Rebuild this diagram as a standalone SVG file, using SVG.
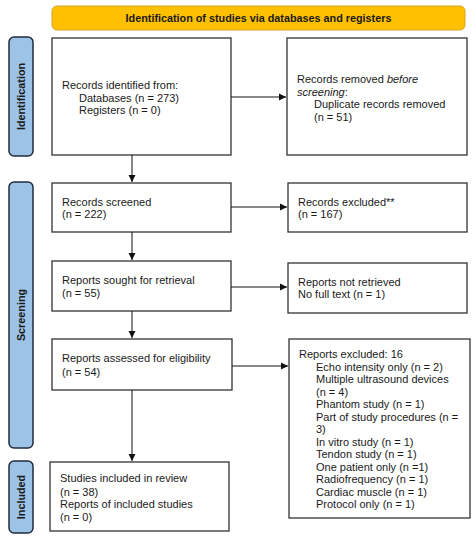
<svg xmlns="http://www.w3.org/2000/svg" width="474" height="539" viewBox="0 0 474 539">
<style>
.box{fill:#fff;stroke:#333;stroke-width:1.3}
.side{fill:#9DC3E6;stroke:#1F2D3D;stroke-width:1.5}
.t{font-family:"Liberation Sans",Arial,sans-serif;font-size:11px;fill:#1a1a1a}
.b{font-family:"Liberation Sans",Arial,sans-serif;font-size:10.8px;font-weight:bold;fill:#1a1a1a}
.c{stroke:#111;stroke-width:1;fill:none;marker-end:url(#ah)}
</style>
<defs>
<marker id="ah" markerWidth="8" markerHeight="8" refX="7" refY="4" orient="auto" markerUnits="userSpaceOnUse">
<path d="M0,0.5 L7,4 L0,7.5 z" fill="#111"/>
</marker>
</defs>
<rect width="474" height="539" fill="#fff"/>
<g id="banner">
<rect x="52" y="6" width="413" height="24" rx="5" fill="#FFC000" stroke="#D9A521" stroke-width="1"/>
<text class="b" x="258.5" y="22" text-anchor="middle">Identification of studies via databases and registers</text>
</g>
<g id="label-identification">
<rect class="side" x="9" y="37" width="24" height="119" rx="5"/>
<text class="b" transform="translate(25,96.5) rotate(-90)" text-anchor="middle">Identification</text>
</g>
<g id="label-screening">
<rect class="side" x="9" y="182" width="24" height="266" rx="5"/>
<text class="b" transform="translate(25,315) rotate(-90)" text-anchor="middle">Screening</text>
</g>
<g id="label-included">
<rect class="side" x="9" y="461" width="24" height="72" rx="5"/>
<text class="b" transform="translate(25,497) rotate(-90)" text-anchor="middle">Included</text>
</g>
<g id="records-identified">
<rect class="box" x="52" y="38" width="179" height="117"/>
<text class="t" x="62" y="89">Records identified from:</text>
<text class="t" x="79" y="102">Databases (n = 273)</text>
<text class="t" x="79" y="114">Registers (n = 0)</text>
</g>
<g id="records-removed">
<rect class="box" x="287" y="38" width="180" height="117"/>
<text class="t" x="297" y="83">Records removed <tspan font-style="italic">before</tspan></text>
<text class="t" x="297" y="96"><tspan font-style="italic">screening</tspan>:</text>
<text class="t" x="314" y="108">Duplicate records removed</text>
<text class="t" x="314" y="121">(n = 51)</text>
</g>
<g id="records-screened">
<rect class="box" x="52" y="183" width="179" height="49"/>
<text class="t" x="62" y="206">Records screened</text>
<text class="t" x="62" y="218">(n = 222)</text>
</g>
<g id="records-excluded">
<rect class="box" x="288" y="183" width="179" height="49"/>
<text class="t" x="298" y="206">Records excluded**</text>
<text class="t" x="298" y="218">(n = 167)</text>
</g>
<g id="reports-sought">
<rect class="box" x="52" y="261" width="179" height="50"/>
<text class="t" x="62" y="284">Reports sought for retrieval</text>
<text class="t" x="62" y="297">(n = 55)</text>
</g>
<g id="reports-not-retrieved">
<rect class="box" x="288" y="263" width="179" height="50"/>
<text class="t" x="298" y="286">Reports not retrieved</text>
<text class="t" x="298" y="298">No full text (n = 1)</text>
</g>
<g id="reports-assessed">
<rect class="box" x="52" y="339" width="180" height="51"/>
<text class="t" x="62" y="362">Reports assessed for eligibility</text>
<text class="t" x="62" y="376">(n = 54)</text>
</g>
<g id="reports-excluded">
<rect class="box" x="289" y="339" width="181" height="179"/>
<text class="t" x="299" y="358">Reports excluded: 16</text>
<text class="t" x="316" y="371">Echo intensity only (n = 2)</text>
<text class="t" x="316" y="383">Multiple ultrasound devices</text>
<text class="t" x="316" y="396">(n = 4)</text>
<text class="t" x="316" y="408">Phantom study (n = 1)</text>
<text class="t" x="316" y="421">Part of study procedures (n =</text>
<text class="t" x="316" y="433">3)</text>
<text class="t" x="316" y="446">In vitro study (n = 1)</text>
<text class="t" x="316" y="458">Tendon study (n = 1)</text>
<text class="t" x="316" y="471">One patient only (n =1)</text>
<text class="t" x="316" y="483">Radiofrequency (n = 1)</text>
<text class="t" x="316" y="496">Cardiac muscle (n = 1)</text>
<text class="t" x="316" y="508">Protocol only (n = 1)</text>
</g>
<g id="studies-included">
<rect class="box" x="50" y="462" width="179" height="69"/>
<text class="t" x="60" y="482">Studies included in review</text>
<text class="t" x="60" y="496">(n = 38)</text>
<text class="t" x="60" y="508">Reports of included studies</text>
<text class="t" x="60" y="521">(n = 0)</text>
</g>
<g id="connectors">
<line class="c" x1="231" y1="97" x2="286" y2="97"/>
<line class="c" x1="132" y1="155" x2="132" y2="182"/>
<line class="c" x1="231" y1="207" x2="287" y2="207"/>
<line class="c" x1="132" y1="232" x2="132" y2="260"/>
<line class="c" x1="231" y1="287" x2="287" y2="287"/>
<line class="c" x1="132" y1="311" x2="132" y2="338"/>
<line class="c" x1="232" y1="366" x2="288" y2="366"/>
<line class="c" x1="132" y1="390" x2="132" y2="461"/>
</g>
</svg>
